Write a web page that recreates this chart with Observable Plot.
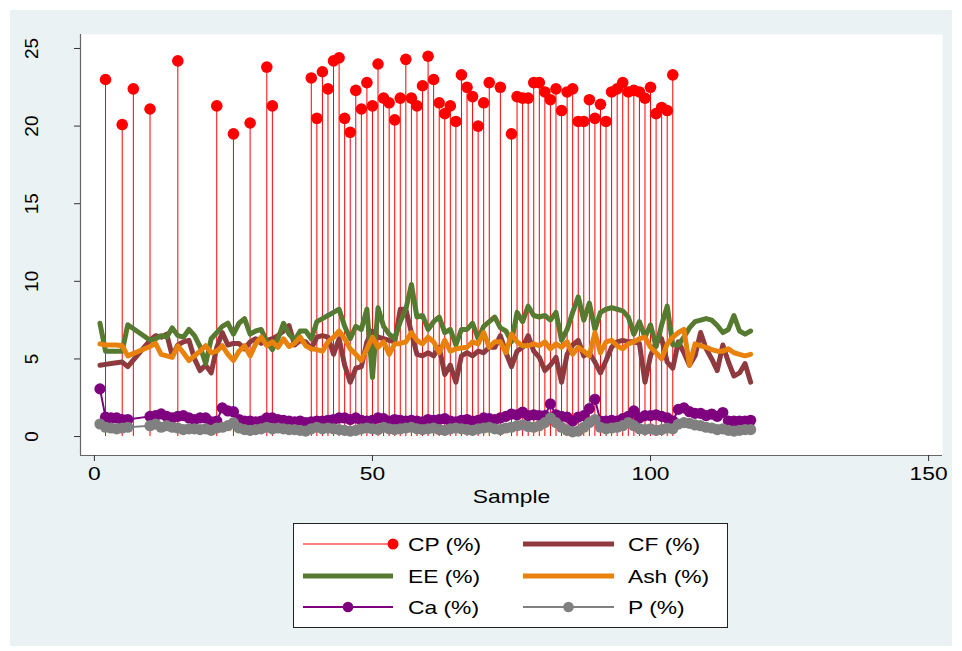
<!DOCTYPE html>
<html><head><meta charset="utf-8">
<script src="https://cdn.jsdelivr.net/npm/d3@7"></script>
<script src="https://cdn.jsdelivr.net/npm/@observablehq/plot@0.6"></script>
<style>
body{margin:0;background:#fff;font-family:"Liberation Sans",Arial,sans-serif;}
#wrap{position:absolute;left:10px;top:10px;width:942px;height:636px;background:#eaf2f3;}
#chart{position:absolute;left:0;top:0;}
#legend{position:absolute;left:283px;top:513px;}
</style></head><body>
<div id="wrap"><div id="chart"></div><div id="legend"></div></div>
<script>
const sample = [1,2,3,4,5,6,7,8,9,10,11,12,13,14,15,16,17,18,19,20,21,22,23,24,25,26,27,28,29,30,31,32,33,34,35,36,37,38,39,40,41,42,43,44,45,46,47,48,49,50,51,52,53,54,55,56,57,58,59,60,61,62,63,64,65,66,67,68,69,70,71,72,73,74,75,76,77,78,79,80,81,82,83,84,85,86,87,88,89,90,91,92,93,94,95,96,97,98,99,100,101,102,103,104,105,106,107,108,109,110,111,112,113,114,115,116,117,118];
const cp = [null,23.0,null,null,20.1,null,22.4,null,null,21.1,
 null,null,null,null,24.2,null,null,null,null,null,
 null,21.3,null,null,19.5,null,null,20.2,null,null,
 23.8,21.3,null,null,null,null,null,null,23.1,20.5,
 23.5,22.4,24.2,24.4,20.5,19.6,22.3,21.1,22.8,21.3,
 24.0,21.8,21.5,20.4,21.8,24.3,21.8,21.3,22.6,24.5,
 23.0,21.5,20.8,21.3,20.3,23.3,22.5,21.9,20.0,21.5,
 22.8,null,22.5,null,19.5,21.9,21.8,21.8,22.8,22.8,
 22.2,21.7,22.4,21.0,22.2,22.4,20.3,20.3,21.7,20.5,
 21.4,20.3,22.2,22.4,22.8,22.2,22.3,22.2,21.8,22.5,
 20.8,21.2,21.0,23.3,null,null,null,null,null,null,
 null,null,null,null,null,null,null,null];
const cf = [4.6,4.65,4.7,4.75,4.8,4.5,null,null,null,6.2,
 6.5,6.4,6.6,5.2,5.9,6.1,6.2,5.0,4.25,4.6,
 4.1,5.75,6.7,5.9,6.0,6.0,5.65,6.1,6.3,6.0,
 6.2,6.3,6.5,6.8,7.15,5.9,6.2,6.1,5.65,6.4,
 6.5,6.4,5.3,6.3,4.6,3.5,4.4,4.5,6.1,6.8,
 6.4,6.3,6.2,6.1,8.2,8.2,6.7,5.3,5.2,5.4,
 5.2,5.75,4.0,4.6,3.5,5.2,5.4,5.2,5.5,5.4,
 5.75,5.75,6.5,5.4,4.5,5.5,5.75,6.5,5.5,5.1,
 4.25,4.6,5.1,3.5,5.3,5.9,6.2,5.2,5.4,4.8,
 4.1,4.9,5.75,6.1,6.2,6.1,6.1,6.0,3.5,5.2,
 6.1,6.3,4.8,4.4,6.1,5.4,4.6,5.2,6.7,5.65,
 5.0,4.25,5.9,4.8,3.9,4.1,4.7,3.5];
const ee = [7.3,5.5,5.5,5.5,5.5,7.2,null,null,null,6.2,
 6.3,6.5,6.4,7.0,6.5,6.4,6.9,6.5,5.8,4.7,
 6.3,6.7,7.1,7.3,6.6,7.3,7.6,6.6,6.8,6.9,
 6.1,5.6,6.3,7.3,6.6,6.2,6.8,6.8,6.3,7.4,
 7.6,7.8,8.0,8.2,7.1,6.3,7.1,6.9,8.2,3.8,
 8.3,7.1,6.6,6.3,7.4,8.2,9.8,7.7,7.8,6.9,
 7.4,7.7,6.7,6.9,5.9,6.9,6.9,7.3,6.3,7.1,
 7.4,7.7,7.0,6.8,6.1,8.0,7.4,8.4,7.8,7.7,
 7.8,7.5,8.0,6.2,6.9,8.0,9.0,7.5,8.6,6.9,
 8.0,8.2,8.3,8.2,8.1,7.7,6.6,7.4,6.4,7.2,
 5.8,7.2,8.4,5.9,5.9,6.4,7.0,7.4,7.5,7.6,
 7.5,7.15,6.7,6.9,7.8,6.8,6.6,6.8];
const ash = [5.97,5.9,5.9,5.9,5.85,5.2,null,null,null,5.8,
 6.0,5.3,5.2,5.1,5.85,5.4,4.9,5.2,5.5,5.85,
 5.4,5.5,5.85,5.3,4.9,5.5,5.85,5.2,5.97,6.4,
 5.85,6.1,5.75,6.3,5.8,6.0,6.4,5.85,5.65,5.6,
 5.5,6.1,6.4,6.8,6.3,5.65,5.3,4.9,5.65,6.4,
 5.75,6.1,5.3,5.97,6.0,6.1,6.7,6.2,5.97,6.4,
 6.1,5.4,6.2,5.5,5.65,5.7,5.75,6.1,5.97,6.7,
 5.75,6.1,6.1,5.4,6.6,6.1,5.85,5.85,5.97,5.85,
 6.1,5.65,5.97,5.75,6.1,5.3,5.75,5.5,5.2,6.7,
 5.4,6.1,6.2,5.85,5.65,5.97,6.1,6.3,6.4,5.75,
 5.4,5.0,5.97,6.4,6.7,6.9,4.6,5.97,5.85,5.75,
 5.6,5.5,5.5,5.65,5.4,5.3,5.2,5.3];
const ca = [3.07,1.25,1.2,1.2,1.1,1.1,null,null,null,1.3,
 1.35,1.46,1.3,1.2,1.3,1.35,1.2,1.1,1.2,1.2,
 0.95,1.0,1.85,1.65,1.6,1.1,1.0,1.0,0.95,1.0,
 1.2,1.2,1.1,1.05,1.0,0.95,1.0,0.9,0.95,1.0,
 1.0,1.05,1.1,1.2,1.2,1.1,1.2,1.05,1.0,1.05,
 1.2,1.15,1.0,1.1,1.05,1.0,1.05,1.0,0.95,1.1,
 1.05,1.1,1.15,1.0,0.95,1.05,1.1,1.0,1.05,1.2,
 1.15,1.1,1.2,1.3,1.45,1.4,1.57,1.35,1.4,1.35,
 1.35,2.1,1.4,1.3,1.25,1.0,1.25,1.35,1.8,2.4,
 1.0,1.0,1.05,1.0,1.15,1.3,1.65,1.2,1.35,1.35,
 1.4,1.3,1.2,1.0,1.75,1.85,1.6,1.5,1.5,1.35,
 1.45,1.3,1.55,1.0,1.0,1.0,1.0,1.05];
const p = [0.81,0.6,0.55,0.5,0.55,0.6,null,null,null,0.7,
 0.8,0.6,0.7,0.6,0.55,0.45,0.5,0.5,0.45,0.5,
 0.4,0.55,0.6,0.7,0.9,0.55,0.45,0.4,0.45,0.5,
 0.6,0.5,0.55,0.5,0.45,0.45,0.4,0.35,0.5,0.6,
 0.5,0.55,0.5,0.45,0.4,0.35,0.4,0.5,0.55,0.5,
 0.45,0.6,0.5,0.45,0.5,0.55,0.6,0.5,0.45,0.5,
 0.55,0.45,0.4,0.5,0.55,0.5,0.45,0.4,0.5,0.55,
 0.6,0.5,0.45,0.55,0.6,0.7,0.75,0.65,0.6,0.7,
 0.9,1.2,0.9,0.6,0.4,0.3,0.35,0.6,0.9,1.1,
 0.6,0.5,0.55,0.6,0.7,0.9,0.7,0.5,0.45,0.5,
 0.4,0.45,0.55,0.5,0.8,0.9,0.85,0.75,0.7,0.6,
 0.55,0.45,0.5,0.4,0.35,0.4,0.45,0.45];
const xTicks = [0, 50, 100, 150];
const yTicks = [0, 5, 10, 15, 20, 25];
const xTitle = "Sample";
const seriesLabels = ["CP (%)", "CF (%)", "EE (%)", "Ash (%)", "Ca (%)", "P (%)"];
const seriesColors = ["#ff0000", "#8f3a3e", "#567a30", "#e8820c", "#7f007f", "#808080"];

const rows = sample.map((s, i) => ({sample: s, CP: cp[i], CF: cf[i], EE: ee[i], Ash: ash[i], Ca: ca[i], P: p[i]}));
const has = k => rows.filter(d => d[k] != null);
const xDom = [-2.5, 152.5], yDom = [-1.22, 25.9];
const FS = 19;

const chart = Plot.plot({
  width: 942, height: 500,
  marginLeft: 70, marginRight: 10, marginTop: 24, marginBottom: 55,
  style: {background: "transparent", fontFamily: "'Liberation Sans', Arial, sans-serif", overflow: "visible"},
  x: {domain: xDom, label: null},
  y: {domain: yDom, label: null},
  marks: [
    Plot.frame({fill: "white", stroke: null}),
    Plot.ruleX(has("CP"), {x: "sample", y1: 0, y2: "CP", stroke: seriesColors[0], strokeWidth: 1}),
    Plot.dot(has("CP"), {x: "sample", y: "CP", r: 5.8, fill: seriesColors[0], stroke: null}),
    Plot.line(has("CF"), {x: "sample", y: "CF", stroke: seriesColors[1], strokeWidth: 5, strokeLinejoin: "round"}),
    Plot.line(has("EE"), {x: "sample", y: "EE", stroke: seriesColors[2], strokeWidth: 5, strokeLinejoin: "round"}),
    Plot.line(has("Ash"), {x: "sample", y: "Ash", stroke: seriesColors[3], strokeWidth: 5, strokeLinejoin: "round"}),
    Plot.line(has("Ca"), {x: "sample", y: "Ca", stroke: seriesColors[4], strokeWidth: 2}),
    Plot.dot(has("Ca"), {x: "sample", y: "Ca", r: 5.6, fill: seriesColors[4], stroke: null}),
    Plot.line(has("P"), {x: "sample", y: "P", stroke: seriesColors[5], strokeWidth: 2}),
    Plot.dot(has("P"), {x: "sample", y: "P", r: 5.6, fill: seriesColors[5], stroke: null}),
    Plot.ruleX([xDom[0]], {stroke: "#666", strokeWidth: 1.2}),
    Plot.ruleY([yDom[0]], {stroke: "#666", strokeWidth: 1.2}),
    Plot.axisX({ticks: xTicks, tickSize: 6, tickPadding: 5, fontSize: FS, label: null, stroke: "#333"}),
    Plot.axisY({ticks: yTicks, tickSize: 6, tickFormat: () => "", label: null, stroke: "#333"}),
    Plot.text(yTicks, {y: d => d, frameAnchor: "left", dx: -49, rotate: -90, text: d => String(d), fontSize: FS, textAnchor: "middle", lineAnchor: "middle", fill: "black"}),
    Plot.text([xTitle], {frameAnchor: "bottom", dy: 41, text: d => d, fontSize: FS, lineAnchor: "middle", fill: "black"})
  ]
});
document.getElementById("chart").appendChild(chart);

// legend
const L = document.getElementById("legend");
const rowsY = [21, 53, 84];
const keyX = [[10, 100], [230, 321]];
const labX = [115, 335];
let s = `<svg width="435" height="106" xmlns="http://www.w3.org/2000/svg" style="font-family:'Liberation Sans',Arial,sans-serif">`;
s += `<rect x="0.5" y="0.5" width="434" height="104" fill="white" stroke="#222" stroke-width="1"/>`;
seriesLabels.forEach((lab, i) => {
  const col = i % 2, r = Math.floor(i / 2), y = rowsY[r];
  const [x1, x2] = keyX[col];
  const c = seriesColors[i];
  if (i === 0) {
    s += `<line x1="${x1}" x2="${x2}" y1="${y}" y2="${y}" stroke="${c}" stroke-width="1"/>`;
    s += `<circle cx="${x2}" cy="${y}" r="5.5" fill="${c}"/>`;
  } else if (i >= 4) {
    s += `<line x1="${x1}" x2="${x2}" y1="${y}" y2="${y}" stroke="${c}" stroke-width="2"/>`;
    s += `<circle cx="${(x1 + x2) / 2}" cy="${y}" r="5.3" fill="${c}"/>`;
  } else {
    s += `<line x1="${x1}" x2="${x2}" y1="${y}" y2="${y}" stroke="${c}" stroke-width="5"/>`;
  }
  s += `<text x="${labX[col]}" y="${y}" dy="0.36em" font-size="${FS}" fill="black">${lab}</text>`;
});
s += `</svg>`;
L.innerHTML = s;

// horizontal stretch of non-rotated text (reference text is wider than tall)
const stretch = 1.2;
document.querySelectorAll("#chart svg text, #legend svg text").forEach(el => {
  const tr = el.getAttribute("transform") || "";
  const ptr = (el.parentNode && el.parentNode.getAttribute && el.parentNode.getAttribute("transform")) || "";
  if (tr.includes("rotate") || ptr.includes("rotate")) return;
  const w = el.getComputedTextLength();
  if (w > 0) {
    el.setAttribute("textLength", (w * stretch).toFixed(1));
    el.setAttribute("lengthAdjust", "spacingAndGlyphs");
  }
});
</script>
</body></html>
